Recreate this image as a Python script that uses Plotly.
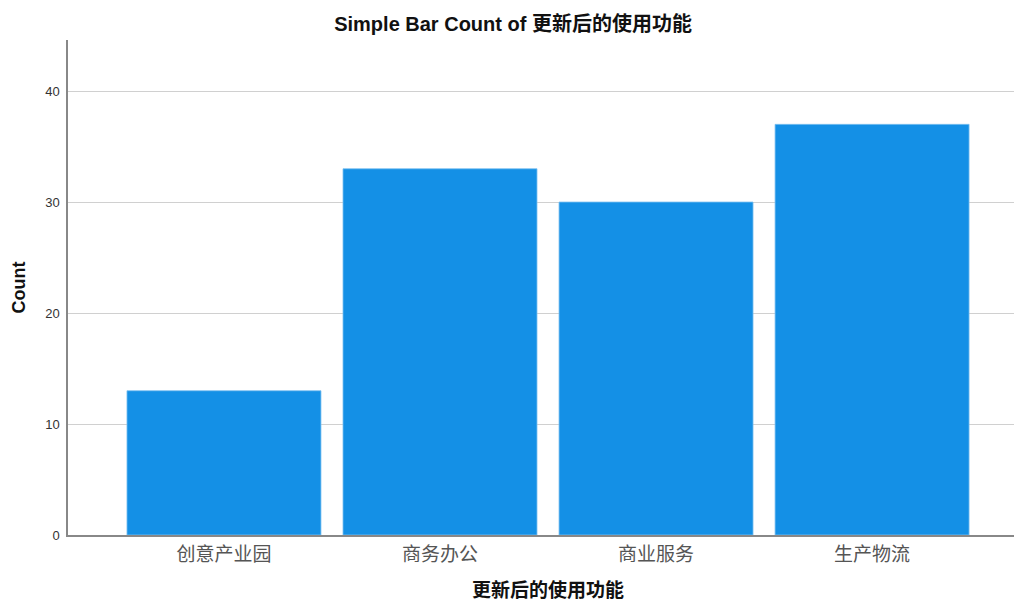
import plotly.graph_objects as go

categories = ["创意产业园", "商务办公", "商业服务", "生产物流"]
counts = [13, 33, 30, 37]
y_ticks = [0, 10, 20, 30, 40]

fig = go.Figure(go.Bar(
    x=categories, y=counts, width=0.898,
    marker=dict(color="#1490e6", line=dict(color="#7cc0f0", width=0.8)),
))
fig.update_layout(
    width=1014, height=603,
    margin=dict(l=68, r=0, t=40, b=68),
    paper_bgcolor="white", plot_bgcolor="white",
    title=dict(text="<b>Simple Bar Count of 更新后的使用功能</b>", x=0.506, xanchor="center",
               y=0.96, yanchor="middle",
               font=dict(family="Liberation Sans, Noto Sans CJK SC", size=20, color="#111")),
    showlegend=False,
    annotations=[dict(text="<b>更新后的使用功能</b>", xref="paper", yref="paper",
                      x=0.507, y=-0.109, xanchor="center", yanchor="middle", showarrow=False,
                      font=dict(family="Noto Sans CJK SC", size=19, color="#111"))],
)
fig.update_xaxes(
    range=[-0.722, 3.657], showline=True, linecolor="#888", linewidth=1.5,
    showgrid=False, ticks="", automargin=False, ticklabelstandoff=1,
    tickfont=dict(family="Noto Sans CJK SC", size=19, color="#555"),
)
fig.update_yaxes(
    range=[0, 44.6], tickvals=y_ticks, showline=True, linecolor="#888", linewidth=1.5,
    showgrid=True, gridcolor="#d0d0d0", gridwidth=1.2, ticks="", zeroline=False,
    automargin=False, ticklabelstandoff=4,
    tickfont=dict(family="Liberation Sans", size=13, color="#333"),
    title=dict(text="<b>Count</b>", standoff=15,
               font=dict(family="Liberation Sans", size=18, color="#111")),
)
fig.write_html("out.html", config={"displayModeBar": False},
               post_script="document.body.style.margin='0';")
